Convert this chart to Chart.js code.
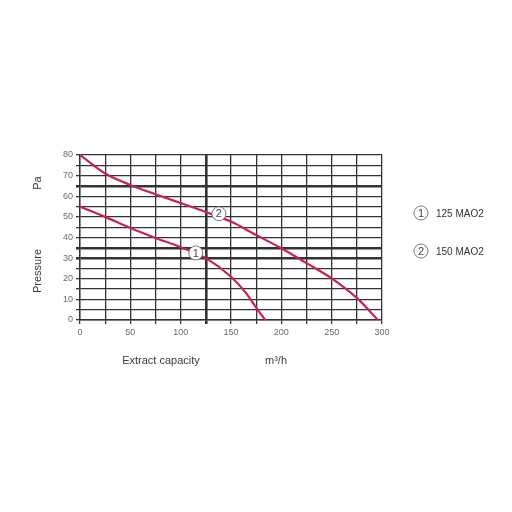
<!DOCTYPE html>
<html>
<head>
<meta charset="utf-8">
<script src="https://cdn.jsdelivr.net/npm/chart.js@4"></script>
<style>
  html, body { margin: 0; padding: 0; background: #fff; }
  #wrap { width: 512px; height: 512px; }
</style>
</head>
<body>
<div id="wrap"><canvas id="chart" width="512" height="512"></canvas></div>
<script>
// curve 1: 125 MAO2
const flow1 = [0, 25, 50, 75, 100, 125, 150, 165, 175, 184];
const pressure1 = [55, 50, 44.6, 39.8, 35.3, 30, 21, 13, 6, 0];
// curve 2: 150 MAO2
const flow2 = [0, 25, 50, 75, 100, 125, 150, 175, 200, 225, 250, 275, 296];
const pressure2 = [80, 71, 65.5, 61, 56.7, 52.4, 47.7, 41.2, 34.8, 27.6, 20.2, 10.7, 0];
// circled numbers on the curves
const markerLabels = ['1', '2'];
const markerFlow = [115, 138];
const markerPressure = [32.5, 51.5];
const legendNames = ['125 MAO2', '150 MAO2'];

const curveColor = '#c8234c';
const gridColor = '#333';
const tickColor = '#6a6a6a';
const font = 'Arial, "Liberation Sans", sans-serif';

const pts = (xs, ys) => xs.map((x, i) => ({ x: x, y: ys[i] }));

function circled(ctx, x, y, label) {
    ctx.save();
    ctx.beginPath();
    ctx.arc(x, y, 7, 0, Math.PI * 2);
    ctx.fillStyle = '#fff';
    ctx.fill();
    ctx.lineWidth = 1;
    ctx.strokeStyle = '#777';
    ctx.stroke();
    ctx.fillStyle = '#444';
    ctx.font = '11px ' + font;
    ctx.textAlign = 'center';
    ctx.textBaseline = 'middle';
    ctx.fillText(label, x, y + 0.5);
    ctx.restore();
}

// circled markers, legend and axis titles
const extras = {
    id: 'extras',
    afterDatasetsDraw(chart) {
        const ctx = chart.ctx;
        const xs = chart.scales.x, ys = chart.scales.y;
        markerLabels.forEach((lab, i) => {
            circled(ctx, xs.getPixelForValue(markerFlow[i]), ys.getPixelForValue(markerPressure[i]), lab);
        });

        legendNames.forEach((name, i) => {
            const y = 213 + i * 38;
            circled(ctx, 421, y, markerLabels[i]);
            ctx.save();
            ctx.fillStyle = '#333';
            ctx.font = '10px ' + font;
            ctx.textBaseline = 'middle';
            ctx.fillText(name, 436, y + 1);
            ctx.restore();
        });

        ctx.save();
        ctx.fillStyle = '#3a3a3a';
        ctx.font = '11px ' + font;
        ctx.textAlign = 'center';
        ctx.textBaseline = 'middle';
        ctx.fillText('Extract capacity', 161, 361);
        ctx.fillText('m\u00b3/h', 276, 361);
        ctx.translate(38, 183);
        ctx.rotate(-Math.PI / 2);
        ctx.fillText('Pa', 0, 0);
        ctx.rotate(Math.PI / 2);
        ctx.translate(0, 88);
        ctx.rotate(-Math.PI / 2);
        ctx.fillText('Pressure', 0, 0);
        ctx.restore();
    }
};

new Chart(document.getElementById('chart'), {
    type: 'line',
    data: {
        datasets: [
            {
                label: legendNames[0],
                data: pts(flow1, pressure1),
                borderColor: curveColor,
                borderWidth: 2.2,
                pointRadius: 0,
                cubicInterpolationMode: 'monotone',
                fill: false
            },
            {
                label: legendNames[1],
                data: pts(flow2, pressure2),
                borderColor: curveColor,
                borderWidth: 2.2,
                pointRadius: 0,
                cubicInterpolationMode: 'monotone',
                fill: false
            }
        ]
    },
    options: {
        responsive: false,
        animation: false,
        events: [],
        layout: { padding: { top: 155, right: 130, left: 0, bottom: 0 } },
        plugins: {
            legend: { display: false },
            tooltip: { enabled: false }
        },
        scales: {
            x: {
                type: 'linear',
                min: 0,
                max: 300,
                afterFit: s => { s.height = 192; },
                border: { color: gridColor, width: 1.4 },
                grid: {
                    color: gridColor,
                    lineWidth: c => (c.tick && c.tick.value === 125 ? 2.6 : 1.3),
                    tickLength: 4
                },
                ticks: {
                    stepSize: 25,
                    autoSkip: false,
                    maxRotation: 0,
                    color: tickColor,
                    font: { size: 9, family: font },
                    padding: 3,
                    callback: v => (v % 50 === 0 ? v : '')
                }
            },
            y: {
                min: 0,
                max: 80,
                afterFit: s => { s.width = 80; },
                border: { color: gridColor, width: 1.4 },
                grid: {
                    color: gridColor,
                    lineWidth: c => (c.tick && [65, 35, 30].includes(c.tick.value) ? 2.6 : 1.3),
                    tickLength: 4
                },
                ticks: {
                    stepSize: 5,
                    autoSkip: false,
                    color: tickColor,
                    font: { size: 9, family: font },
                    padding: 3,
                    callback: v => (v % 10 === 0 ? v : '')
                }
            }
        }
    },
    plugins: [extras]
});
</script>
</body>
</html>
